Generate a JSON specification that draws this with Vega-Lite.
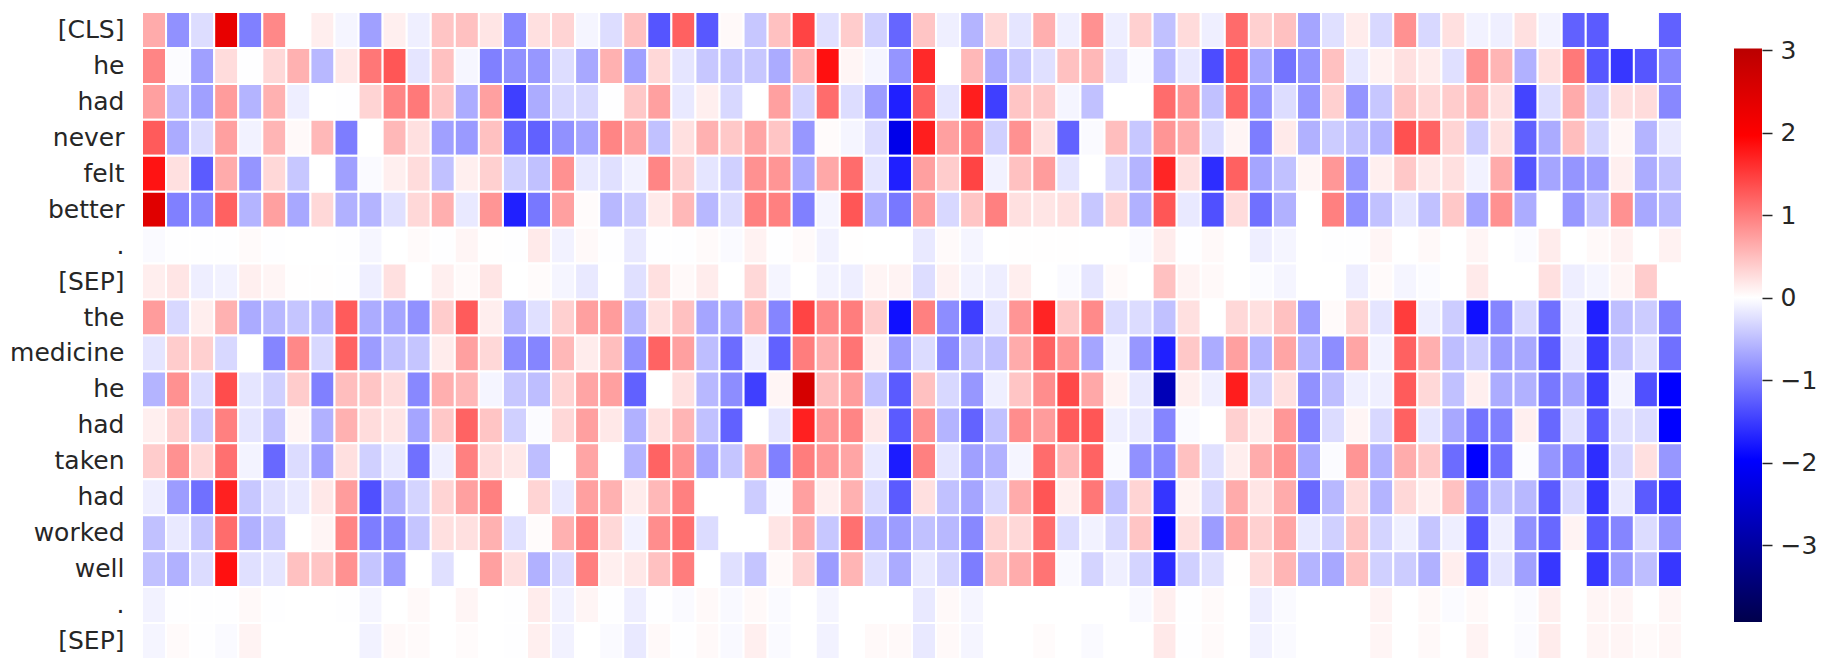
{"$schema":"https://vega.github.io/schema/vega-lite/v6.json","background":"white","padding":{"left":9,"top":11,"right":0,"bottom":0},"spacing":51,"config":{"view":{"stroke":null},"font":"DejaVu Sans"},"hconcat":[{"width":1540,"height":647,"data":{"values":[
{"r":0,"c":0,"v":0.65},{"r":0,"c":1,"v":-0.85},{"r":0,"c":2,"v":-0.26},{"r":0,"c":3,"v":2.32},{"r":0,"c":4,"v":-0.98},{"r":0,"c":5,"v":0.92},{"r":0,"c":6,"v":0},{"r":0,"c":7,"v":0.13},{"r":0,"c":8,"v":-0.08},{"r":0,"c":9,"v":-0.73},{"r":0,"c":10,"v":0.12},{"r":0,"c":11,"v":-0.12},{"r":0,"c":12,"v":0.45},{"r":0,"c":13,"v":0.48},{"r":0,"c":14,"v":0.2},{"r":0,"c":15,"v":-0.92},{"r":0,"c":16,"v":0.24},{"r":0,"c":17,"v":0.33},{"r":0,"c":18,"v":-0.08},{"r":0,"c":19,"v":-0.26},{"r":0,"c":20,"v":0.48},{"r":0,"c":21,"v":-1.31},{"r":0,"c":22,"v":1.22},{"r":0,"c":23,"v":-1.29},{"r":0,"c":24,"v":0.05},{"r":0,"c":25,"v":-0.43},{"r":0,"c":26,"v":0.48},{"r":0,"c":27,"v":1.44},{"r":0,"c":28,"v":-0.24},{"r":0,"c":29,"v":0.39},{"r":0,"c":30,"v":-0.36},{"r":0,"c":31,"v":-1.18},{"r":0,"c":32,"v":0.45},{"r":0,"c":33,"v":-0.12},{"r":0,"c":34,"v":-0.58},{"r":0,"c":35,"v":0.3},{"r":0,"c":36,"v":-0.2},{"r":0,"c":37,"v":0.62},{"r":0,"c":38,"v":-0.12},{"r":0,"c":39,"v":0.85},{"r":0,"c":40,"v":-0.13},{"r":0,"c":41,"v":0.36},{"r":0,"c":42,"v":-0.48},{"r":0,"c":43,"v":0.28},{"r":0,"c":44,"v":-0.12},{"r":0,"c":45,"v":1.14},{"r":0,"c":46,"v":0.36},{"r":0,"c":47,"v":0.48},{"r":0,"c":48,"v":-0.69},{"r":0,"c":49,"v":-0.24},{"r":0,"c":50,"v":0.15},{"r":0,"c":51,"v":-0.3},{"r":0,"c":52,"v":0.85},{"r":0,"c":53,"v":-0.3},{"r":0,"c":54,"v":0.24},{"r":0,"c":55,"v":-0.1},{"r":0,"c":56,"v":-0.12},{"r":0,"c":57,"v":0.24},{"r":0,"c":58,"v":-0.09},{"r":0,"c":59,"v":-1.22},{"r":0,"c":60,"v":-1.26},{"r":0,"c":61,"v":0},{"r":0,"c":62,"v":0},{"r":0,"c":63,"v":-1.22},
{"r":1,"c":0,"v":0.94},{"r":1,"c":1,"v":-0.02},{"r":1,"c":2,"v":-0.73},{"r":1,"c":3,"v":0.27},{"r":1,"c":4,"v":-0.01},{"r":1,"c":5,"v":0.3},{"r":1,"c":6,"v":0.6},{"r":1,"c":7,"v":-0.55},{"r":1,"c":8,"v":0.18},{"r":1,"c":9,"v":1.05},{"r":1,"c":10,"v":1.3},{"r":1,"c":11,"v":-0.2},{"r":1,"c":12,"v":0.48},{"r":1,"c":13,"v":-0.07},{"r":1,"c":14,"v":-0.98},{"r":1,"c":15,"v":-0.85},{"r":1,"c":16,"v":-0.8},{"r":1,"c":17,"v":-0.26},{"r":1,"c":18,"v":-0.67},{"r":1,"c":19,"v":0.6},{"r":1,"c":20,"v":-0.73},{"r":1,"c":21,"v":0.3},{"r":1,"c":22,"v":-0.2},{"r":1,"c":23,"v":-0.43},{"r":1,"c":24,"v":-0.45},{"r":1,"c":25,"v":-0.43},{"r":1,"c":26,"v":-0.65},{"r":1,"c":27,"v":0.57},{"r":1,"c":28,"v":1.84},{"r":1,"c":29,"v":0.08},{"r":1,"c":30,"v":-0.08},{"r":1,"c":31,"v":-0.82},{"r":1,"c":32,"v":1.65},{"r":1,"c":33,"v":0},{"r":1,"c":34,"v":0.55},{"r":1,"c":35,"v":-0.65},{"r":1,"c":36,"v":-0.43},{"r":1,"c":37,"v":-0.24},{"r":1,"c":38,"v":0.48},{"r":1,"c":39,"v":0.55},{"r":1,"c":40,"v":-0.2},{"r":1,"c":41,"v":-0.04},{"r":1,"c":42,"v":-0.55},{"r":1,"c":43,"v":-0.18},{"r":1,"c":44,"v":-1.38},{"r":1,"c":45,"v":1.3},{"r":1,"c":46,"v":-0.67},{"r":1,"c":47,"v":-1.07},{"r":1,"c":48,"v":-0.82},{"r":1,"c":49,"v":0.48},{"r":1,"c":50,"v":-0.18},{"r":1,"c":51,"v":0.1},{"r":1,"c":52,"v":0.24},{"r":1,"c":53,"v":0.15},{"r":1,"c":54,"v":-0.24},{"r":1,"c":55,"v":0.85},{"r":1,"c":56,"v":0.57},{"r":1,"c":57,"v":-0.6},{"r":1,"c":58,"v":0.24},{"r":1,"c":59,"v":1.03},{"r":1,"c":60,"v":-1.3},{"r":1,"c":61,"v":-1.54},{"r":1,"c":62,"v":-1.3},{"r":1,"c":63,"v":-0.92},
{"r":2,"c":0,"v":0.73},{"r":2,"c":1,"v":-0.5},{"r":2,"c":2,"v":-0.73},{"r":2,"c":3,"v":0.76},{"r":2,"c":4,"v":-0.58},{"r":2,"c":5,"v":0.6},{"r":2,"c":6,"v":-0.13},{"r":2,"c":7,"v":0},{"r":2,"c":8,"v":-0.01},{"r":2,"c":9,"v":0.33},{"r":2,"c":10,"v":0.94},{"r":2,"c":11,"v":1.03},{"r":2,"c":12,"v":0.45},{"r":2,"c":13,"v":-0.64},{"r":2,"c":14,"v":0.73},{"r":2,"c":15,"v":-1.48},{"r":2,"c":16,"v":-0.64},{"r":2,"c":17,"v":-0.3},{"r":2,"c":18,"v":-0.3},{"r":2,"c":19,"v":-0.01},{"r":2,"c":20,"v":0.42},{"r":2,"c":21,"v":0.73},{"r":2,"c":22,"v":-0.17},{"r":2,"c":23,"v":0.12},{"r":2,"c":24,"v":-0.3},{"r":2,"c":25,"v":0},{"r":2,"c":26,"v":0.73},{"r":2,"c":27,"v":-0.33},{"r":2,"c":28,"v":1.13},{"r":2,"c":29,"v":-0.26},{"r":2,"c":30,"v":-0.76},{"r":2,"c":31,"v":-1.72},{"r":2,"c":32,"v":1.22},{"r":2,"c":33,"v":-0.2},{"r":2,"c":34,"v":1.73},{"r":2,"c":35,"v":-1.48},{"r":2,"c":36,"v":0.45},{"r":2,"c":37,"v":0.42},{"r":2,"c":38,"v":-0.08},{"r":2,"c":39,"v":-0.48},{"r":2,"c":40,"v":0},{"r":2,"c":41,"v":0},{"r":2,"c":42,"v":1.13},{"r":2,"c":43,"v":0.82},{"r":2,"c":44,"v":-0.48},{"r":2,"c":45,"v":1.18},{"r":2,"c":46,"v":-0.82},{"r":2,"c":47,"v":-0.26},{"r":2,"c":48,"v":-0.81},{"r":2,"c":49,"v":0.36},{"r":2,"c":50,"v":-0.82},{"r":2,"c":51,"v":-0.43},{"r":2,"c":52,"v":0.45},{"r":2,"c":53,"v":0.3},{"r":2,"c":54,"v":0.39},{"r":2,"c":55,"v":0.57},{"r":2,"c":56,"v":0.24},{"r":2,"c":57,"v":-1.44},{"r":2,"c":58,"v":-0.26},{"r":2,"c":59,"v":0.65},{"r":2,"c":60,"v":-0.39},{"r":2,"c":61,"v":0.24},{"r":2,"c":62,"v":0.27},{"r":2,"c":63,"v":-0.92},
{"r":3,"c":0,"v":1.26},{"r":3,"c":1,"v":-0.65},{"r":3,"c":2,"v":-0.28},{"r":3,"c":3,"v":0.73},{"r":3,"c":4,"v":-0.1},{"r":3,"c":5,"v":0.57},{"r":3,"c":6,"v":0.05},{"r":3,"c":7,"v":0.55},{"r":3,"c":8,"v":-1},{"r":3,"c":9,"v":0},{"r":3,"c":10,"v":0.55},{"r":3,"c":11,"v":0.24},{"r":3,"c":12,"v":-0.73},{"r":3,"c":13,"v":-0.78},{"r":3,"c":14,"v":0.48},{"r":3,"c":15,"v":-1.16},{"r":3,"c":16,"v":-1.22},{"r":3,"c":17,"v":-0.85},{"r":3,"c":18,"v":-0.69},{"r":3,"c":19,"v":0.94},{"r":3,"c":20,"v":0.73},{"r":3,"c":21,"v":-0.48},{"r":3,"c":22,"v":0.24},{"r":3,"c":23,"v":0.6},{"r":3,"c":24,"v":0.42},{"r":3,"c":25,"v":0.69},{"r":3,"c":26,"v":0.45},{"r":3,"c":27,"v":-0.8},{"r":3,"c":28,"v":0.03},{"r":3,"c":29,"v":-0.08},{"r":3,"c":30,"v":-0.27},{"r":3,"c":31,"v":-2.2},{"r":3,"c":32,"v":1.73},{"r":3,"c":33,"v":0.73},{"r":3,"c":34,"v":1},{"r":3,"c":35,"v":-0.36},{"r":3,"c":36,"v":0.85},{"r":3,"c":37,"v":0.24},{"r":3,"c":38,"v":-1.2},{"r":3,"c":39,"v":-0.04},{"r":3,"c":40,"v":0.5},{"r":3,"c":41,"v":-0.43},{"r":3,"c":42,"v":0.82},{"r":3,"c":43,"v":0.65},{"r":3,"c":44,"v":-0.27},{"r":3,"c":45,"v":0.08},{"r":3,"c":46,"v":-1},{"r":3,"c":47,"v":0.16},{"r":3,"c":48,"v":-0.6},{"r":3,"c":49,"v":-0.39},{"r":3,"c":50,"v":-0.48},{"r":3,"c":51,"v":-0.58},{"r":3,"c":52,"v":1.35},{"r":3,"c":53,"v":1.2},{"r":3,"c":54,"v":0.33},{"r":3,"c":55,"v":-0.39},{"r":3,"c":56,"v":0.24},{"r":3,"c":57,"v":-1.22},{"r":3,"c":58,"v":-0.65},{"r":3,"c":59,"v":0.5},{"r":3,"c":60,"v":-0.33},{"r":3,"c":61,"v":0.07},{"r":3,"c":62,"v":-0.58},{"r":3,"c":63,"v":-0.17},
{"r":4,"c":0,"v":1.82},{"r":4,"c":1,"v":0.24},{"r":4,"c":2,"v":-1.26},{"r":4,"c":3,"v":0.65},{"r":4,"c":4,"v":-0.82},{"r":4,"c":5,"v":0.3},{"r":4,"c":6,"v":-0.43},{"r":4,"c":7,"v":0},{"r":4,"c":8,"v":-0.73},{"r":4,"c":9,"v":-0.04},{"r":4,"c":10,"v":0.12},{"r":4,"c":11,"v":0.27},{"r":4,"c":12,"v":-0.48},{"r":4,"c":13,"v":0.12},{"r":4,"c":14,"v":0.36},{"r":4,"c":15,"v":-0.36},{"r":4,"c":16,"v":-0.48},{"r":4,"c":17,"v":0.85},{"r":4,"c":18,"v":-0.17},{"r":4,"c":19,"v":-0.24},{"r":4,"c":20,"v":-0.1},{"r":4,"c":21,"v":0.94},{"r":4,"c":22,"v":0.36},{"r":4,"c":23,"v":-0.2},{"r":4,"c":24,"v":-0.36},{"r":4,"c":25,"v":0.85},{"r":4,"c":26,"v":0.82},{"r":4,"c":27,"v":-0.65},{"r":4,"c":28,"v":0.67},{"r":4,"c":29,"v":1.13},{"r":4,"c":30,"v":-0.2},{"r":4,"c":31,"v":-1.72},{"r":4,"c":32,"v":0.73},{"r":4,"c":33,"v":0.39},{"r":4,"c":34,"v":1.44},{"r":4,"c":35,"v":-0.1},{"r":4,"c":36,"v":0.48},{"r":4,"c":37,"v":0.76},{"r":4,"c":38,"v":-0.2},{"r":4,"c":39,"v":0},{"r":4,"c":40,"v":-0.27},{"r":4,"c":41,"v":-0.58},{"r":4,"c":42,"v":1.68},{"r":4,"c":43,"v":0.24},{"r":4,"c":44,"v":-1.62},{"r":4,"c":45,"v":1.22},{"r":4,"c":46,"v":-0.69},{"r":4,"c":47,"v":-0.48},{"r":4,"c":48,"v":0.08},{"r":4,"c":49,"v":0.8},{"r":4,"c":50,"v":-0.8},{"r":4,"c":51,"v":0.12},{"r":4,"c":52,"v":0.42},{"r":4,"c":53,"v":0.18},{"r":4,"c":54,"v":0.24},{"r":4,"c":55,"v":-0.1},{"r":4,"c":56,"v":0.65},{"r":4,"c":57,"v":-1.31},{"r":4,"c":58,"v":-0.69},{"r":4,"c":59,"v":-0.82},{"r":4,"c":60,"v":-0.76},{"r":4,"c":61,"v":0.12},{"r":4,"c":62,"v":-0.64},{"r":4,"c":63,"v":-0.48},
{"r":5,"c":0,"v":2.44},{"r":5,"c":1,"v":-0.98},{"r":5,"c":2,"v":-0.92},{"r":5,"c":3,"v":1.22},{"r":5,"c":4,"v":-0.58},{"r":5,"c":5,"v":0.73},{"r":5,"c":6,"v":-0.67},{"r":5,"c":7,"v":0.3},{"r":5,"c":8,"v":-0.6},{"r":5,"c":9,"v":-0.58},{"r":5,"c":10,"v":-0.24},{"r":5,"c":11,"v":0.3},{"r":5,"c":12,"v":0.62},{"r":5,"c":13,"v":-0.17},{"r":5,"c":14,"v":0.82},{"r":5,"c":15,"v":-1.72},{"r":5,"c":16,"v":-1.04},{"r":5,"c":17,"v":0.73},{"r":5,"c":18,"v":0.03},{"r":5,"c":19,"v":-0.55},{"r":5,"c":20,"v":-0.39},{"r":5,"c":21,"v":0.16},{"r":5,"c":22,"v":0.55},{"r":5,"c":23,"v":-0.55},{"r":5,"c":24,"v":-0.27},{"r":5,"c":25,"v":0.98},{"r":5,"c":26,"v":0.98},{"r":5,"c":27,"v":-0.98},{"r":5,"c":28,"v":-0.08},{"r":5,"c":29,"v":1.3},{"r":5,"c":30,"v":-0.64},{"r":5,"c":31,"v":-1.04},{"r":5,"c":32,"v":0.76},{"r":5,"c":33,"v":-0.3},{"r":5,"c":34,"v":0.45},{"r":5,"c":35,"v":0.98},{"r":5,"c":36,"v":0.24},{"r":5,"c":37,"v":0.2},{"r":5,"c":38,"v":0.24},{"r":5,"c":39,"v":-0.43},{"r":5,"c":40,"v":0.33},{"r":5,"c":41,"v":-0.6},{"r":5,"c":42,"v":1.3},{"r":5,"c":43,"v":-0.17},{"r":5,"c":44,"v":-1.35},{"r":5,"c":45,"v":0.27},{"r":5,"c":46,"v":-1.1},{"r":5,"c":47,"v":-0.6},{"r":5,"c":48,"v":0},{"r":5,"c":49,"v":0.98},{"r":5,"c":50,"v":-0.85},{"r":5,"c":51,"v":-0.48},{"r":5,"c":52,"v":-0.2},{"r":5,"c":53,"v":-0.48},{"r":5,"c":54,"v":0.42},{"r":5,"c":55,"v":-0.69},{"r":5,"c":56,"v":0.85},{"r":5,"c":57,"v":-0.64},{"r":5,"c":58,"v":0},{"r":5,"c":59,"v":-0.8},{"r":5,"c":60,"v":-0.45},{"r":5,"c":61,"v":0.85},{"r":5,"c":62,"v":-0.67},{"r":5,"c":63,"v":-0.55},
{"r":6,"c":0,"v":-0.04},{"r":6,"c":1,"v":-0.01},{"r":6,"c":2,"v":-0.01},{"r":6,"c":3,"v":-0.01},{"r":6,"c":4,"v":0.04},{"r":6,"c":5,"v":-0.01},{"r":6,"c":6,"v":0},{"r":6,"c":7,"v":0},{"r":6,"c":8,"v":-0.01},{"r":6,"c":9,"v":-0.07},{"r":6,"c":10,"v":0},{"r":6,"c":11,"v":0.04},{"r":6,"c":12,"v":-0.01},{"r":6,"c":13,"v":0.08},{"r":6,"c":14,"v":0.01},{"r":6,"c":15,"v":-0.01},{"r":6,"c":16,"v":0.16},{"r":6,"c":17,"v":-0.1},{"r":6,"c":18,"v":0.05},{"r":6,"c":19,"v":-0.01},{"r":6,"c":20,"v":-0.17},{"r":6,"c":21,"v":-0.01},{"r":6,"c":22,"v":-0.01},{"r":6,"c":23,"v":0.04},{"r":6,"c":24,"v":-0.04},{"r":6,"c":25,"v":0.1},{"r":6,"c":26,"v":-0.01},{"r":6,"c":27,"v":0.04},{"r":6,"c":28,"v":-0.1},{"r":6,"c":29,"v":0.01},{"r":6,"c":30,"v":0},{"r":6,"c":31,"v":0},{"r":6,"c":32,"v":-0.17},{"r":6,"c":33,"v":0.04},{"r":6,"c":34,"v":-0.08},{"r":6,"c":35,"v":0},{"r":6,"c":36,"v":0.01},{"r":6,"c":37,"v":0.01},{"r":6,"c":38,"v":0.01},{"r":6,"c":39,"v":0},{"r":6,"c":40,"v":0},{"r":6,"c":41,"v":-0.04},{"r":6,"c":42,"v":0.15},{"r":6,"c":43,"v":-0.01},{"r":6,"c":44,"v":0.05},{"r":6,"c":45,"v":0},{"r":6,"c":46,"v":-0.13},{"r":6,"c":47,"v":-0.08},{"r":6,"c":48,"v":0},{"r":6,"c":49,"v":-0.01},{"r":6,"c":50,"v":-0.01},{"r":6,"c":51,"v":0.08},{"r":6,"c":52,"v":0},{"r":6,"c":53,"v":0.05},{"r":6,"c":54,"v":0},{"r":6,"c":55,"v":0.08},{"r":6,"c":56,"v":0},{"r":6,"c":57,"v":-0.03},{"r":6,"c":58,"v":0.15},{"r":6,"c":59,"v":0},{"r":6,"c":60,"v":0.05},{"r":6,"c":61,"v":0.1},{"r":6,"c":62,"v":0},{"r":6,"c":63,"v":0.1},
{"r":7,"c":0,"v":0.13},{"r":7,"c":1,"v":0.2},{"r":7,"c":2,"v":-0.13},{"r":7,"c":3,"v":-0.1},{"r":7,"c":4,"v":0.12},{"r":7,"c":5,"v":0.08},{"r":7,"c":6,"v":0.01},{"r":7,"c":7,"v":0.01},{"r":7,"c":8,"v":-0.01},{"r":7,"c":9,"v":-0.13},{"r":7,"c":10,"v":0.24},{"r":7,"c":11,"v":0},{"r":7,"c":12,"v":0.12},{"r":7,"c":13,"v":0.04},{"r":7,"c":14,"v":0.2},{"r":7,"c":15,"v":0},{"r":7,"c":16,"v":0.03},{"r":7,"c":17,"v":-0.08},{"r":7,"c":18,"v":-0.17},{"r":7,"c":19,"v":0},{"r":7,"c":20,"v":-0.24},{"r":7,"c":21,"v":0.24},{"r":7,"c":22,"v":0.05},{"r":7,"c":23,"v":0.15},{"r":7,"c":24,"v":0},{"r":7,"c":25,"v":0.3},{"r":7,"c":26,"v":-0.08},{"r":7,"c":27,"v":0},{"r":7,"c":28,"v":-0.09},{"r":7,"c":29,"v":-0.13},{"r":7,"c":30,"v":0.08},{"r":7,"c":31,"v":0.09},{"r":7,"c":32,"v":-0.26},{"r":7,"c":33,"v":0.1},{"r":7,"c":34,"v":-0.1},{"r":7,"c":35,"v":-0.13},{"r":7,"c":36,"v":0.13},{"r":7,"c":37,"v":0},{"r":7,"c":38,"v":-0.04},{"r":7,"c":39,"v":-0.2},{"r":7,"c":40,"v":0.04},{"r":7,"c":41,"v":0},{"r":7,"c":42,"v":0.48},{"r":7,"c":43,"v":0.09},{"r":7,"c":44,"v":0.05},{"r":7,"c":45,"v":0},{"r":7,"c":46,"v":-0.03},{"r":7,"c":47,"v":-0.08},{"r":7,"c":48,"v":0},{"r":7,"c":49,"v":0},{"r":7,"c":50,"v":-0.13},{"r":7,"c":51,"v":0.04},{"r":7,"c":52,"v":-0.08},{"r":7,"c":53,"v":-0.03},{"r":7,"c":54,"v":0},{"r":7,"c":55,"v":0.16},{"r":7,"c":56,"v":0},{"r":7,"c":57,"v":0},{"r":7,"c":58,"v":0.24},{"r":7,"c":59,"v":-0.13},{"r":7,"c":60,"v":-0.08},{"r":7,"c":61,"v":0.08},{"r":7,"c":62,"v":0.39},{"r":7,"c":63,"v":0},
{"r":8,"c":0,"v":0.76},{"r":8,"c":1,"v":-0.3},{"r":8,"c":2,"v":0.13},{"r":8,"c":3,"v":0.6},{"r":8,"c":4,"v":-0.65},{"r":8,"c":5,"v":-0.55},{"r":8,"c":6,"v":-0.45},{"r":8,"c":7,"v":-0.55},{"r":8,"c":8,"v":1.26},{"r":8,"c":9,"v":-0.64},{"r":8,"c":10,"v":-0.69},{"r":8,"c":11,"v":-0.85},{"r":8,"c":12,"v":0.39},{"r":8,"c":13,"v":1.26},{"r":8,"c":14,"v":0.13},{"r":8,"c":15,"v":-0.55},{"r":8,"c":16,"v":-0.24},{"r":8,"c":17,"v":0.36},{"r":8,"c":18,"v":0.73},{"r":8,"c":19,"v":0.76},{"r":8,"c":20,"v":-0.55},{"r":8,"c":21,"v":0.24},{"r":8,"c":22,"v":0.48},{"r":8,"c":23,"v":-0.69},{"r":8,"c":24,"v":-0.67},{"r":8,"c":25,"v":0.57},{"r":8,"c":26,"v":-0.94},{"r":8,"c":27,"v":1.44},{"r":8,"c":28,"v":0.92},{"r":8,"c":29,"v":1},{"r":8,"c":30,"v":0.39},{"r":8,"c":31,"v":-1.84},{"r":8,"c":32,"v":0.98},{"r":8,"c":33,"v":-0.88},{"r":8,"c":34,"v":-1.48},{"r":8,"c":35,"v":-0.2},{"r":8,"c":36,"v":0.82},{"r":8,"c":37,"v":1.69},{"r":8,"c":38,"v":0.42},{"r":8,"c":39,"v":0.9},{"r":8,"c":40,"v":-0.27},{"r":8,"c":41,"v":-0.27},{"r":8,"c":42,"v":-0.48},{"r":8,"c":43,"v":0.24},{"r":8,"c":44,"v":0},{"r":8,"c":45,"v":0.3},{"r":8,"c":46,"v":0.24},{"r":8,"c":47,"v":0.48},{"r":8,"c":48,"v":-0.76},{"r":8,"c":49,"v":0.04},{"r":8,"c":50,"v":0.33},{"r":8,"c":51,"v":-0.2},{"r":8,"c":52,"v":1.5},{"r":8,"c":53,"v":-0.13},{"r":8,"c":54,"v":-0.39},{"r":8,"c":55,"v":-1.84},{"r":8,"c":56,"v":-0.94},{"r":8,"c":57,"v":-0.3},{"r":8,"c":58,"v":-1.1},{"r":8,"c":59,"v":-0.13},{"r":8,"c":60,"v":-1.72},{"r":8,"c":61,"v":-0.5},{"r":8,"c":62,"v":-0.39},{"r":8,"c":63,"v":-0.98},
{"r":9,"c":0,"v":-0.2},{"r":9,"c":1,"v":0.39},{"r":9,"c":2,"v":0.36},{"r":9,"c":3,"v":-0.3},{"r":9,"c":4,"v":0},{"r":9,"c":5,"v":-0.94},{"r":9,"c":6,"v":0.92},{"r":9,"c":7,"v":-0.3},{"r":9,"c":8,"v":1.2},{"r":9,"c":9,"v":-0.76},{"r":9,"c":10,"v":-0.48},{"r":9,"c":11,"v":-0.45},{"r":9,"c":12,"v":0.15},{"r":9,"c":13,"v":0.73},{"r":9,"c":14,"v":0.3},{"r":9,"c":15,"v":-0.88},{"r":9,"c":16,"v":-0.94},{"r":9,"c":17,"v":0.55},{"r":9,"c":18,"v":0.15},{"r":9,"c":19,"v":0.5},{"r":9,"c":20,"v":-0.85},{"r":9,"c":21,"v":1.2},{"r":9,"c":22,"v":0.73},{"r":9,"c":23,"v":-0.5},{"r":9,"c":24,"v":-1.13},{"r":9,"c":25,"v":-0.13},{"r":9,"c":26,"v":-1.22},{"r":9,"c":27,"v":1},{"r":9,"c":28,"v":0.62},{"r":9,"c":29,"v":1.07},{"r":9,"c":30,"v":0.12},{"r":9,"c":31,"v":-0.76},{"r":9,"c":32,"v":-0.27},{"r":9,"c":33,"v":-0.92},{"r":9,"c":34,"v":-0.48},{"r":9,"c":35,"v":-0.48},{"r":9,"c":36,"v":0.65},{"r":9,"c":37,"v":1.22},{"r":9,"c":38,"v":0.82},{"r":9,"c":39,"v":-0.69},{"r":9,"c":40,"v":-0.09},{"r":9,"c":41,"v":-0.8},{"r":9,"c":42,"v":-1.72},{"r":9,"c":43,"v":0.42},{"r":9,"c":44,"v":-0.64},{"r":9,"c":45,"v":0.73},{"r":9,"c":46,"v":-0.58},{"r":9,"c":47,"v":0.69},{"r":9,"c":48,"v":-0.58},{"r":9,"c":49,"v":-0.88},{"r":9,"c":50,"v":0.69},{"r":9,"c":51,"v":-0.1},{"r":9,"c":52,"v":1.22},{"r":9,"c":53,"v":0.62},{"r":9,"c":54,"v":-0.5},{"r":9,"c":55,"v":-0.39},{"r":9,"c":56,"v":-0.76},{"r":9,"c":57,"v":-0.67},{"r":9,"c":58,"v":-1.26},{"r":9,"c":59,"v":-0.17},{"r":9,"c":60,"v":-1.5},{"r":9,"c":61,"v":-0.45},{"r":9,"c":62,"v":-0.24},{"r":9,"c":63,"v":-1.1},
{"r":10,"c":0,"v":-0.58},{"r":10,"c":1,"v":0.85},{"r":10,"c":2,"v":-0.27},{"r":10,"c":3,"v":1.38},{"r":10,"c":4,"v":-0.2},{"r":10,"c":5,"v":-0.36},{"r":10,"c":6,"v":0.39},{"r":10,"c":7,"v":-0.98},{"r":10,"c":8,"v":0.5},{"r":10,"c":9,"v":0.45},{"r":10,"c":10,"v":0.27},{"r":10,"c":11,"v":-0.92},{"r":10,"c":12,"v":0.62},{"r":10,"c":13,"v":0.55},{"r":10,"c":14,"v":-0.08},{"r":10,"c":15,"v":-0.43},{"r":10,"c":16,"v":-0.5},{"r":10,"c":17,"v":0.33},{"r":10,"c":18,"v":0.69},{"r":10,"c":19,"v":0.73},{"r":10,"c":20,"v":-1.22},{"r":10,"c":21,"v":0},{"r":10,"c":22,"v":0.24},{"r":10,"c":23,"v":-0.55},{"r":10,"c":24,"v":-0.88},{"r":10,"c":25,"v":-1.48},{"r":10,"c":26,"v":0.08},{"r":10,"c":27,"v":2.6},{"r":10,"c":28,"v":0.5},{"r":10,"c":29,"v":0.76},{"r":10,"c":30,"v":-0.48},{"r":10,"c":31,"v":-1.26},{"r":10,"c":32,"v":0.48},{"r":10,"c":33,"v":-0.3},{"r":10,"c":34,"v":-0.8},{"r":10,"c":35,"v":-0.12},{"r":10,"c":36,"v":0.45},{"r":10,"c":37,"v":0.88},{"r":10,"c":38,"v":1.41},{"r":10,"c":39,"v":0.67},{"r":10,"c":40,"v":0.09},{"r":10,"c":41,"v":-0.17},{"r":10,"c":42,"v":-2.75},{"r":10,"c":43,"v":0.12},{"r":10,"c":44,"v":-0.12},{"r":10,"c":45,"v":1.74},{"r":10,"c":46,"v":-0.36},{"r":10,"c":47,"v":0.24},{"r":10,"c":48,"v":-0.85},{"r":10,"c":49,"v":-0.5},{"r":10,"c":50,"v":-0.12},{"r":10,"c":51,"v":-0.12},{"r":10,"c":52,"v":1.26},{"r":10,"c":53,"v":0.3},{"r":10,"c":54,"v":-0.48},{"r":10,"c":55,"v":0.12},{"r":10,"c":56,"v":-0.64},{"r":10,"c":57,"v":-0.6},{"r":10,"c":58,"v":-1.04},{"r":10,"c":59,"v":-0.69},{"r":10,"c":60,"v":-1.48},{"r":10,"c":61,"v":-0.09},{"r":10,"c":62,"v":-1.35},{"r":10,"c":63,"v":-1.96},
{"r":11,"c":0,"v":0.12},{"r":11,"c":1,"v":0.36},{"r":11,"c":2,"v":-0.39},{"r":11,"c":3,"v":0.98},{"r":11,"c":4,"v":-0.2},{"r":11,"c":5,"v":-0.48},{"r":11,"c":6,"v":0.08},{"r":11,"c":7,"v":-0.6},{"r":11,"c":8,"v":0.6},{"r":11,"c":9,"v":0.27},{"r":11,"c":10,"v":0.2},{"r":11,"c":11,"v":-0.69},{"r":11,"c":12,"v":0.42},{"r":11,"c":13,"v":1.2},{"r":11,"c":14,"v":0.45},{"r":11,"c":15,"v":-0.36},{"r":11,"c":16,"v":-0.03},{"r":11,"c":17,"v":0.3},{"r":11,"c":18,"v":0.73},{"r":11,"c":19,"v":0.18},{"r":11,"c":20,"v":-0.6},{"r":11,"c":21,"v":0.24},{"r":11,"c":22,"v":0.57},{"r":11,"c":23,"v":-0.48},{"r":11,"c":24,"v":-1.22},{"r":11,"c":25,"v":0},{"r":11,"c":26,"v":-0.2},{"r":11,"c":27,"v":1.72},{"r":11,"c":28,"v":0.8},{"r":11,"c":29,"v":0.94},{"r":11,"c":30,"v":0.18},{"r":11,"c":31,"v":-1.26},{"r":11,"c":32,"v":0.85},{"r":11,"c":33,"v":-0.58},{"r":11,"c":34,"v":-1.2},{"r":11,"c":35,"v":-0.48},{"r":11,"c":36,"v":0.88},{"r":11,"c":37,"v":0.76},{"r":11,"c":38,"v":1.26},{"r":11,"c":39,"v":1.3},{"r":11,"c":40,"v":-0.12},{"r":11,"c":41,"v":-0.17},{"r":11,"c":42,"v":-0.94},{"r":11,"c":43,"v":-0.04},{"r":11,"c":44,"v":0},{"r":11,"c":45,"v":0.36},{"r":11,"c":46,"v":0.15},{"r":11,"c":47,"v":0.8},{"r":11,"c":48,"v":-1},{"r":11,"c":49,"v":-0.27},{"r":11,"c":50,"v":0.08},{"r":11,"c":51,"v":-0.3},{"r":11,"c":52,"v":1.22},{"r":11,"c":53,"v":-0.2},{"r":11,"c":54,"v":-0.67},{"r":11,"c":55,"v":-1.07},{"r":11,"c":56,"v":-0.98},{"r":11,"c":57,"v":0.12},{"r":11,"c":58,"v":-1.16},{"r":11,"c":59,"v":-0.24},{"r":11,"c":60,"v":-1.26},{"r":11,"c":61,"v":-0.24},{"r":11,"c":62,"v":-0.27},{"r":11,"c":63,"v":-1.96},
{"r":12,"c":0,"v":0.39},{"r":12,"c":1,"v":0.85},{"r":12,"c":2,"v":0.3},{"r":12,"c":3,"v":1.1},{"r":12,"c":4,"v":-0.09},{"r":12,"c":5,"v":-1.16},{"r":12,"c":6,"v":-0.27},{"r":12,"c":7,"v":-0.73},{"r":12,"c":8,"v":0.24},{"r":12,"c":9,"v":-0.36},{"r":12,"c":10,"v":-0.17},{"r":12,"c":11,"v":-1.1},{"r":12,"c":12,"v":-0.12},{"r":12,"c":13,"v":0.98},{"r":12,"c":14,"v":0.27},{"r":12,"c":15,"v":0.18},{"r":12,"c":16,"v":-0.5},{"r":12,"c":17,"v":0},{"r":12,"c":18,"v":0.69},{"r":12,"c":19,"v":0},{"r":12,"c":20,"v":-0.58},{"r":12,"c":21,"v":1.2},{"r":12,"c":22,"v":0.85},{"r":12,"c":23,"v":-0.69},{"r":12,"c":24,"v":-0.45},{"r":12,"c":25,"v":0.69},{"r":12,"c":26,"v":-0.98},{"r":12,"c":27,"v":1},{"r":12,"c":28,"v":0.8},{"r":12,"c":29,"v":0.69},{"r":12,"c":30,"v":-0.17},{"r":12,"c":31,"v":-1.75},{"r":12,"c":32,"v":0.98},{"r":12,"c":33,"v":-0.2},{"r":12,"c":34,"v":-0.73},{"r":12,"c":35,"v":-0.6},{"r":12,"c":36,"v":-0.08},{"r":12,"c":37,"v":1.13},{"r":12,"c":38,"v":0.55},{"r":12,"c":39,"v":1.2},{"r":12,"c":40,"v":-0.04},{"r":12,"c":41,"v":-0.85},{"r":12,"c":42,"v":-0.92},{"r":12,"c":43,"v":0.48},{"r":12,"c":44,"v":-0.24},{"r":12,"c":45,"v":0.13},{"r":12,"c":46,"v":0.64},{"r":12,"c":47,"v":0.85},{"r":12,"c":48,"v":-0.67},{"r":12,"c":49,"v":-0.03},{"r":12,"c":50,"v":0.82},{"r":12,"c":51,"v":-0.6},{"r":12,"c":52,"v":0.64},{"r":12,"c":53,"v":0.42},{"r":12,"c":54,"v":-1.13},{"r":12,"c":55,"v":-1.96},{"r":12,"c":56,"v":-1.1},{"r":12,"c":57,"v":-0.02},{"r":12,"c":58,"v":-0.82},{"r":12,"c":59,"v":-0.98},{"r":12,"c":60,"v":-1.62},{"r":12,"c":61,"v":-0.3},{"r":12,"c":62,"v":0.24},{"r":12,"c":63,"v":-0.8},
{"r":13,"c":0,"v":-0.13},{"r":13,"c":1,"v":-0.76},{"r":13,"c":2,"v":-1.1},{"r":13,"c":3,"v":1.72},{"r":13,"c":4,"v":-0.43},{"r":13,"c":5,"v":-0.24},{"r":13,"c":6,"v":-0.17},{"r":13,"c":7,"v":0.18},{"r":13,"c":8,"v":0.76},{"r":13,"c":9,"v":-1.35},{"r":13,"c":10,"v":-0.6},{"r":13,"c":11,"v":-0.33},{"r":13,"c":12,"v":0.33},{"r":13,"c":13,"v":0.73},{"r":13,"c":14,"v":0.98},{"r":13,"c":15,"v":0},{"r":13,"c":16,"v":0.33},{"r":13,"c":17,"v":-0.17},{"r":13,"c":18,"v":0.73},{"r":13,"c":19,"v":0.6},{"r":13,"c":20,"v":0.15},{"r":13,"c":21,"v":0.55},{"r":13,"c":22,"v":0.98},{"r":13,"c":23,"v":0},{"r":13,"c":24,"v":0},{"r":13,"c":25,"v":-0.39},{"r":13,"c":26,"v":-0.03},{"r":13,"c":27,"v":0.73},{"r":13,"c":28,"v":0.12},{"r":13,"c":29,"v":0.6},{"r":13,"c":30,"v":-0.27},{"r":13,"c":31,"v":-1.26},{"r":13,"c":32,"v":0.24},{"r":13,"c":33,"v":-0.48},{"r":13,"c":34,"v":-0.69},{"r":13,"c":35,"v":-0.3},{"r":13,"c":36,"v":0.65},{"r":13,"c":37,"v":1.31},{"r":13,"c":38,"v":0.12},{"r":13,"c":39,"v":1.05},{"r":13,"c":40,"v":-0.48},{"r":13,"c":41,"v":0.33},{"r":13,"c":42,"v":-1.56},{"r":13,"c":43,"v":0.09},{"r":13,"c":44,"v":-0.3},{"r":13,"c":45,"v":0.65},{"r":13,"c":46,"v":0.2},{"r":13,"c":47,"v":0.65},{"r":13,"c":48,"v":-1.16},{"r":13,"c":49,"v":-0.55},{"r":13,"c":50,"v":0.27},{"r":13,"c":51,"v":-0.58},{"r":13,"c":52,"v":0.3},{"r":13,"c":53,"v":0.12},{"r":13,"c":54,"v":0.48},{"r":13,"c":55,"v":-0.92},{"r":13,"c":56,"v":-0.48},{"r":13,"c":57,"v":-0.55},{"r":13,"c":58,"v":-1.26},{"r":13,"c":59,"v":-0.3},{"r":13,"c":60,"v":-1.54},{"r":13,"c":61,"v":-0.17},{"r":13,"c":62,"v":-1.26},{"r":13,"c":63,"v":-1.54},
{"r":14,"c":0,"v":-0.48},{"r":14,"c":1,"v":-0.17},{"r":14,"c":2,"v":-0.45},{"r":14,"c":3,"v":1.13},{"r":14,"c":4,"v":-0.6},{"r":14,"c":5,"v":-0.43},{"r":14,"c":6,"v":0},{"r":14,"c":7,"v":0.08},{"r":14,"c":8,"v":0.94},{"r":14,"c":9,"v":-1},{"r":14,"c":10,"v":-0.92},{"r":14,"c":11,"v":-0.45},{"r":14,"c":12,"v":0.24},{"r":14,"c":13,"v":0.24},{"r":14,"c":14,"v":0.6},{"r":14,"c":15,"v":-0.24},{"r":14,"c":16,"v":0.03},{"r":14,"c":17,"v":0.6},{"r":14,"c":18,"v":0.98},{"r":14,"c":19,"v":0.3},{"r":14,"c":20,"v":-0.1},{"r":14,"c":21,"v":0.88},{"r":14,"c":22,"v":1.1},{"r":14,"c":23,"v":-0.27},{"r":14,"c":24,"v":0},{"r":14,"c":25,"v":0},{"r":14,"c":26,"v":0.2},{"r":14,"c":27,"v":0.64},{"r":14,"c":28,"v":-0.43},{"r":14,"c":29,"v":1.1},{"r":14,"c":30,"v":-0.65},{"r":14,"c":31,"v":-0.76},{"r":14,"c":32,"v":-0.48},{"r":14,"c":33,"v":-0.55},{"r":14,"c":34,"v":-0.92},{"r":14,"c":35,"v":0.33},{"r":14,"c":36,"v":0.3},{"r":14,"c":37,"v":1.13},{"r":14,"c":38,"v":-0.27},{"r":14,"c":39,"v":-0.1},{"r":14,"c":40,"v":-0.3},{"r":14,"c":41,"v":0.45},{"r":14,"c":42,"v":-1.9},{"r":14,"c":43,"v":0.24},{"r":14,"c":44,"v":-0.76},{"r":14,"c":45,"v":0.69},{"r":14,"c":46,"v":0.36},{"r":14,"c":47,"v":0.69},{"r":14,"c":48,"v":-0.17},{"r":14,"c":49,"v":-0.36},{"r":14,"c":50,"v":0.45},{"r":14,"c":51,"v":-0.33},{"r":14,"c":52,"v":-0.12},{"r":14,"c":53,"v":-0.45},{"r":14,"c":54,"v":-0.13},{"r":14,"c":55,"v":-1.31},{"r":14,"c":56,"v":-0.13},{"r":14,"c":57,"v":-0.85},{"r":14,"c":58,"v":-1.16},{"r":14,"c":59,"v":0.09},{"r":14,"c":60,"v":-1.26},{"r":14,"c":61,"v":-0.94},{"r":14,"c":62,"v":-0.27},{"r":14,"c":63,"v":-0.82},
{"r":15,"c":0,"v":-0.48},{"r":15,"c":1,"v":-0.6},{"r":15,"c":2,"v":-0.27},{"r":15,"c":3,"v":1.84},{"r":15,"c":4,"v":-0.24},{"r":15,"c":5,"v":-0.2},{"r":15,"c":6,"v":0.48},{"r":15,"c":7,"v":0.45},{"r":15,"c":8,"v":0.85},{"r":15,"c":9,"v":-0.45},{"r":15,"c":10,"v":-0.76},{"r":15,"c":11,"v":0},{"r":15,"c":12,"v":-0.24},{"r":15,"c":13,"v":0},{"r":15,"c":14,"v":0.73},{"r":15,"c":15,"v":0.24},{"r":15,"c":16,"v":-0.6},{"r":15,"c":17,"v":-0.27},{"r":15,"c":18,"v":0.98},{"r":15,"c":19,"v":0.12},{"r":15,"c":20,"v":0.18},{"r":15,"c":21,"v":0.48},{"r":15,"c":22,"v":1},{"r":15,"c":23,"v":0},{"r":15,"c":24,"v":-0.24},{"r":15,"c":25,"v":-0.45},{"r":15,"c":26,"v":0.05},{"r":15,"c":27,"v":0.33},{"r":15,"c":28,"v":-0.76},{"r":15,"c":29,"v":0.57},{"r":15,"c":30,"v":-0.24},{"r":15,"c":31,"v":-0.65},{"r":15,"c":32,"v":-0.17},{"r":15,"c":33,"v":-0.33},{"r":15,"c":34,"v":-1},{"r":15,"c":35,"v":0.48},{"r":15,"c":36,"v":0.64},{"r":15,"c":37,"v":1.07},{"r":15,"c":38,"v":-0.05},{"r":15,"c":39,"v":-0.33},{"r":15,"c":40,"v":-0.12},{"r":15,"c":41,"v":-0.33},{"r":15,"c":42,"v":-1.62},{"r":15,"c":43,"v":-0.36},{"r":15,"c":44,"v":-0.24},{"r":15,"c":45,"v":0.01},{"r":15,"c":46,"v":0.27},{"r":15,"c":47,"v":0.57},{"r":15,"c":48,"v":-0.58},{"r":15,"c":49,"v":-0.67},{"r":15,"c":50,"v":0.48},{"r":15,"c":51,"v":-0.36},{"r":15,"c":52,"v":-0.39},{"r":15,"c":53,"v":-0.6},{"r":15,"c":54,"v":0.13},{"r":15,"c":55,"v":-1.22},{"r":15,"c":56,"v":-0.2},{"r":15,"c":57,"v":-0.73},{"r":15,"c":58,"v":-1.54},{"r":15,"c":59,"v":0},{"r":15,"c":60,"v":-1.54},{"r":15,"c":61,"v":-0.76},{"r":15,"c":62,"v":-0.5},{"r":15,"c":63,"v":-1.54},
{"r":16,"c":0,"v":-0.1},{"r":16,"c":1,"v":-0.01},{"r":16,"c":2,"v":-0.01},{"r":16,"c":3,"v":-0.01},{"r":16,"c":4,"v":0.05},{"r":16,"c":5,"v":-0.01},{"r":16,"c":6,"v":0},{"r":16,"c":7,"v":0},{"r":16,"c":8,"v":-0.01},{"r":16,"c":9,"v":-0.08},{"r":16,"c":10,"v":0},{"r":16,"c":11,"v":0.05},{"r":16,"c":12,"v":0},{"r":16,"c":13,"v":0.08},{"r":16,"c":14,"v":0},{"r":16,"c":15,"v":-0.01},{"r":16,"c":16,"v":0.15},{"r":16,"c":17,"v":-0.1},{"r":16,"c":18,"v":0.08},{"r":16,"c":19,"v":-0.01},{"r":16,"c":20,"v":-0.13},{"r":16,"c":21,"v":-0.01},{"r":16,"c":22,"v":-0.04},{"r":16,"c":23,"v":0.05},{"r":16,"c":24,"v":-0.05},{"r":16,"c":25,"v":0.05},{"r":16,"c":26,"v":-0.04},{"r":16,"c":27,"v":0},{"r":16,"c":28,"v":-0.08},{"r":16,"c":29,"v":0},{"r":16,"c":30,"v":0},{"r":16,"c":31,"v":0},{"r":16,"c":32,"v":-0.17},{"r":16,"c":33,"v":0.05},{"r":16,"c":34,"v":-0.08},{"r":16,"c":35,"v":0},{"r":16,"c":36,"v":0},{"r":16,"c":37,"v":0},{"r":16,"c":38,"v":0},{"r":16,"c":39,"v":0},{"r":16,"c":40,"v":0},{"r":16,"c":41,"v":-0.05},{"r":16,"c":42,"v":0.12},{"r":16,"c":43,"v":-0.01},{"r":16,"c":44,"v":0.04},{"r":16,"c":45,"v":0},{"r":16,"c":46,"v":-0.13},{"r":16,"c":47,"v":-0.04},{"r":16,"c":48,"v":0},{"r":16,"c":49,"v":0},{"r":16,"c":50,"v":0},{"r":16,"c":51,"v":0.09},{"r":16,"c":52,"v":0},{"r":16,"c":53,"v":0.05},{"r":16,"c":54,"v":-0.03},{"r":16,"c":55,"v":0.05},{"r":16,"c":56,"v":0},{"r":16,"c":57,"v":-0.03},{"r":16,"c":58,"v":0.12},{"r":16,"c":59,"v":0},{"r":16,"c":60,"v":0.08},{"r":16,"c":61,"v":0.08},{"r":16,"c":62,"v":0},{"r":16,"c":63,"v":0.07},
{"r":17,"c":0,"v":-0.08},{"r":17,"c":1,"v":0.04},{"r":17,"c":2,"v":-0.01},{"r":17,"c":3,"v":-0.04},{"r":17,"c":4,"v":0.09},{"r":17,"c":5,"v":0},{"r":17,"c":6,"v":0},{"r":17,"c":7,"v":0},{"r":17,"c":8,"v":0},{"r":17,"c":9,"v":-0.1},{"r":17,"c":10,"v":0.05},{"r":17,"c":11,"v":0.04},{"r":17,"c":12,"v":0},{"r":17,"c":13,"v":0.03},{"r":17,"c":14,"v":0},{"r":17,"c":15,"v":-0.01},{"r":17,"c":16,"v":0.12},{"r":17,"c":17,"v":-0.1},{"r":17,"c":18,"v":0},{"r":17,"c":19,"v":-0.04},{"r":17,"c":20,"v":-0.17},{"r":17,"c":21,"v":0.05},{"r":17,"c":22,"v":-0.01},{"r":17,"c":23,"v":0.05},{"r":17,"c":24,"v":-0.05},{"r":17,"c":25,"v":0.12},{"r":17,"c":26,"v":-0.04},{"r":17,"c":27,"v":0},{"r":17,"c":28,"v":-0.1},{"r":17,"c":29,"v":0},{"r":17,"c":30,"v":0.05},{"r":17,"c":31,"v":0.05},{"r":17,"c":32,"v":-0.17},{"r":17,"c":33,"v":0.05},{"r":17,"c":34,"v":-0.08},{"r":17,"c":35,"v":0},{"r":17,"c":36,"v":0},{"r":17,"c":37,"v":0.03},{"r":17,"c":38,"v":0},{"r":17,"c":39,"v":-0.04},{"r":17,"c":40,"v":0},{"r":17,"c":41,"v":0},{"r":17,"c":42,"v":0.17},{"r":17,"c":43,"v":-0.01},{"r":17,"c":44,"v":0.04},{"r":17,"c":45,"v":0},{"r":17,"c":46,"v":-0.1},{"r":17,"c":47,"v":-0.04},{"r":17,"c":48,"v":0},{"r":17,"c":49,"v":0},{"r":17,"c":50,"v":0},{"r":17,"c":51,"v":0.08},{"r":17,"c":52,"v":0},{"r":17,"c":53,"v":0.05},{"r":17,"c":54,"v":0},{"r":17,"c":55,"v":0.09},{"r":17,"c":56,"v":0},{"r":17,"c":57,"v":-0.03},{"r":17,"c":58,"v":0.15},{"r":17,"c":59,"v":0},{"r":17,"c":60,"v":0.08},{"r":17,"c":61,"v":0.08},{"r":17,"c":62,"v":0.04},{"r":17,"c":63,"v":0.07}
]},"mark":{"type":"rect","stroke":"white","strokeWidth":2},"encoding":{"x":{"field":"c","type":"ordinal","axis":null,"scale":{"paddingInner":0,"paddingOuter":0}},"y":{"field":"r","type":"ordinal","title":null,"scale":{"paddingInner":0,"paddingOuter":0},"axis":{"ticks":false,"domain":false,"grid":false,"labelAngle":0,"labelFontSize":25,"labelFont":"DejaVu Sans","labelColor":"#262626","labelPadding":18,"labelExpr":"['[CLS]','he','had','never','felt','better','.','[SEP]','the','medicine','he','had','taken','had','worked','well','.','[SEP]'][datum.value]"}},"color":{"field":"v","type":"quantitative","legend":null,"scale":{"domain":[-3.93,-1.965,0,1.965,3.02],"range":["#00004c","#0000ff","#ffffff","#ff0000","#ba0000"],"interpolate":"rgb"}}}},{"width":28,"height":647,"data":{"values":[{"low":-3.93,"high":3.02}]},"mark":{"type":"rect","fill":{"gradient":"linear","x1":0,"y1":1,"x2":0,"y2":0,"stops":[{"offset":0,"color":"#00004c"},{"offset":0.2827,"color":"#0000ff"},{"offset":0.5655,"color":"#ffffff"},{"offset":0.8482,"color":"#ff0000"},{"offset":1,"color":"#ba0000"}]}},"encoding":{"y":{"field":"low","type":"quantitative","title":null,"scale":{"domain":[-4.379,3.463],"nice":false,"zero":false},"axis":{"orient":"right","values":[-3,-2,-1,0,1,2,3],"format":"d","grid":false,"domain":false,"tickSize":10,"tickWidth":1.5,"tickColor":"#262626","labelFontSize":25,"labelFont":"DejaVu Sans","labelColor":"#262626","labelPadding":8}},"y2":{"field":"high"}}}]}
